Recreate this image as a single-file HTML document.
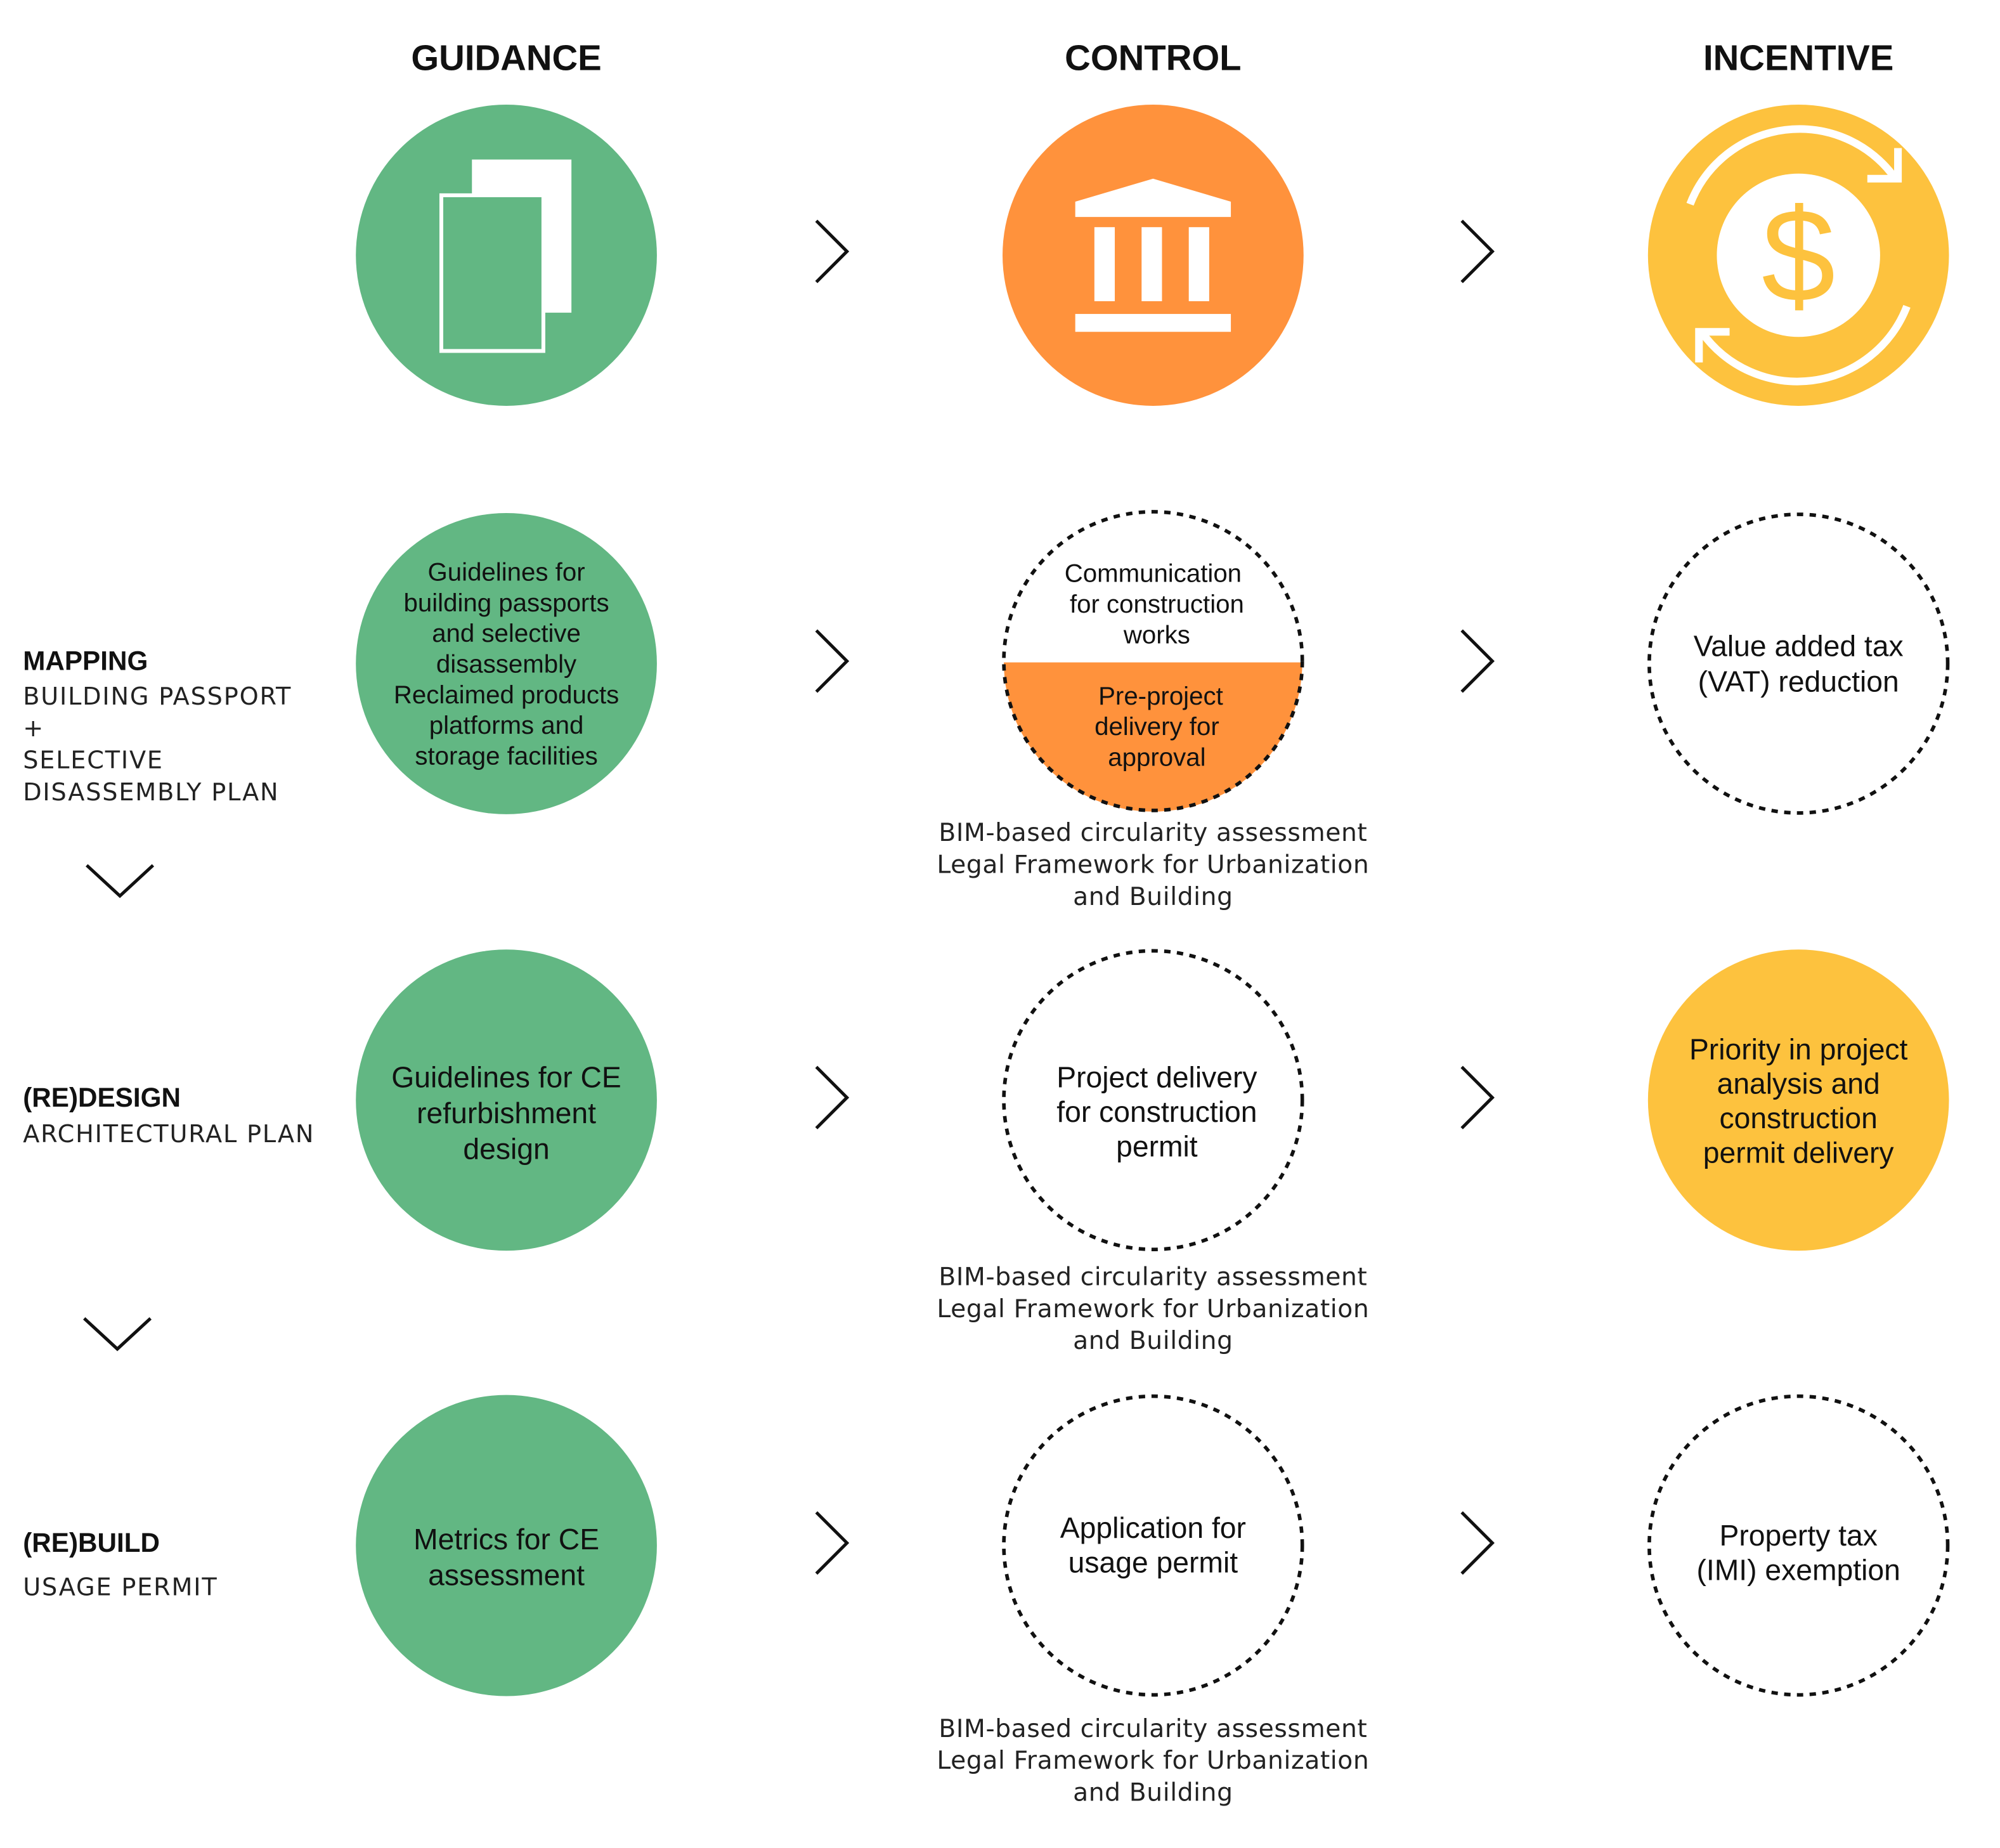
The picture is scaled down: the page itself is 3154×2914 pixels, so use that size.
<!DOCTYPE html>
<html><head><meta charset="utf-8"><style>
html,body{margin:0;padding:0;background:#fff}
svg{display:block}
text{font-family:"Liberation Sans",sans-serif}
.h{font-weight:bold;font-size:28px;text-anchor:middle;fill:#111}
.c{font-size:20px;text-anchor:middle;fill:#111}
.c2{font-size:23px;text-anchor:middle;fill:#111}
.b{font-family:"DejaVu Sans",sans-serif;font-size:19.5px;letter-spacing:0.3px;text-anchor:middle;fill:#222}
.l{font-family:"DejaVu Sans",sans-serif;font-size:19px;letter-spacing:0.9px;fill:#222}
.lb{font-weight:bold;font-size:21px;fill:#111}
.ar{fill:none;stroke:#111;stroke-width:2.5}
.ds{fill:none;stroke:#111;stroke-width:2.8;stroke-dasharray:5 5}
</style></head><body>
<svg width="3154" height="2914" viewBox="0 0 1568 1448" preserveAspectRatio="none" xmlns="http://www.w3.org/2000/svg">
<text class="h" x="397" y="55">GUIDANCE</text>
<text class="h" x="904" y="55">CONTROL</text>
<text class="h" x="1410" y="55">INCENTIVE</text>

<circle cx="397" cy="200" r="118" fill="#62B783"/>
<rect x="370" y="125" width="78" height="120" fill="#fff"/>
<rect x="346" y="153" width="80" height="122" fill="#62B783" stroke="#fff" stroke-width="3"/>
<circle cx="904" cy="200" r="118" fill="#FF923C"/>
<polygon points="843,158 904,140 965,158 965,170 843,170" fill="#fff"/>
<rect x="858" y="178" width="16" height="58" fill="#fff"/>
<rect x="895" y="178" width="16" height="58" fill="#fff"/>
<rect x="932" y="178" width="16" height="58" fill="#fff"/>
<rect x="843" y="246" width="122" height="14" fill="#fff"/>
<circle cx="1410" cy="200" r="118" fill="#FDC23E"/>
<circle cx="1410" cy="200" r="64" fill="#fff"/>
<path d="M1486,140 A92,92 0 0 0 1325,160" fill="none" stroke="#fff" stroke-width="6"/>
<path d="M1334,260 A92,92 0 0 0 1495,240" fill="none" stroke="#fff" stroke-width="6"/>
<polyline points="1464,140 1488,140 1488,116" fill="none" stroke="#fff" stroke-width="6"/>
<polyline points="1356,260 1332,260 1332,284" fill="none" stroke="#fff" stroke-width="6"/>
<text x="1410" y="236" font-size="104" text-anchor="middle" fill="#FDC23E" font-family="Liberation Sans">$</text>

<g class="ar">
<polyline points="640,173 664,197 640,221"/><polyline points="1146,173 1170,197 1146,221"/>
<polyline points="640,494 664,518 640,542"/><polyline points="1146,494 1170,518 1146,542"/>
<polyline points="640,836 664,860 640,884"/><polyline points="1146,836 1170,860 1146,884"/>
<polyline points="640,1185 664,1209 640,1233"/><polyline points="1146,1185 1170,1209 1146,1233"/>
<polyline points="68,678 94,702 120,678"/><polyline points="66,1033 92,1057 118,1033"/>
</g>

<circle cx="397" cy="520" r="118" fill="#62B783"/>
<text class="c" x="397" y="455">Guidelines for</text>
<text class="c" x="397" y="479">building passports</text>
<text class="c" x="397" y="503">and selective</text>
<text class="c" x="397" y="527">disassembly</text>
<text class="c" x="397" y="551">Reclaimed products</text>
<text class="c" x="397" y="575">platforms and</text>
<text class="c" x="397" y="599">storage facilities</text>
<path d="M787,519 L1021,519 A117,117 0 0 1 787,519 Z" fill="#FF923C"/>
<circle cx="904" cy="518" r="117" class="ds"/>
<text class="c" x="904" y="456">Communication</text>
<text class="c" x="907" y="480">for construction</text>
<text class="c" x="907" y="504">works</text>
<text class="c" x="910" y="552">Pre-project</text>
<text class="c" x="907" y="576">delivery for</text>
<text class="c" x="907" y="600">approval</text>
<circle cx="1410" cy="520" r="117" class="ds"/>
<text class="c2" x="1410" y="514">Value added tax</text>
<text class="c2" x="1410" y="542">(VAT) reduction</text>

<text class="lb" x="18" y="525">MAPPING</text>
<text class="l" x="18" y="552">BUILDING PASSPORT</text>
<text class="l" x="18" y="577">+</text>
<text class="l" x="18" y="602">SELECTIVE</text>
<text class="l" x="18" y="627">DISASSEMBLY PLAN</text>

<text class="b" x="904" y="659">BIM-based circularity assessment</text>
<text class="b" x="904" y="684">Legal Framework for Urbanization</text>
<text class="b" x="904" y="709">and Building</text>

<circle cx="397" cy="862" r="118" fill="#62B783"/>
<text class="c2" x="397" y="852">Guidelines for CE</text>
<text class="c2" x="397" y="880">refurbishment</text>
<text class="c2" x="397" y="908">design</text>
<circle cx="904" cy="862" r="117" class="ds"/>
<text class="c2" x="907" y="852">Project delivery</text>
<text class="c2" x="907" y="879">for construction</text>
<text class="c2" x="907" y="906">permit</text>
<circle cx="1410" cy="862" r="118" fill="#FDC23E"/>
<text class="c2" x="1410" y="830">Priority in project</text>
<text class="c2" x="1410" y="857">analysis and</text>
<text class="c2" x="1410" y="884">construction</text>
<text class="c2" x="1410" y="911">permit delivery</text>

<text class="lb" x="18" y="867">(RE)DESIGN</text>
<text class="l" x="18" y="895">ARCHITECTURAL PLAN</text>

<text class="b" x="904" y="1007">BIM-based circularity assessment</text>
<text class="b" x="904" y="1032">Legal Framework for Urbanization</text>
<text class="b" x="904" y="1057">and Building</text>

<circle cx="397" cy="1211" r="118" fill="#62B783"/>
<text class="c2" x="397" y="1214">Metrics for CE</text>
<text class="c2" x="397" y="1242">assessment</text>
<circle cx="904" cy="1211" r="117" class="ds"/>
<text class="c2" x="904" y="1205">Application for</text>
<text class="c2" x="904" y="1232">usage permit</text>
<circle cx="1410" cy="1211" r="117" class="ds"/>
<text class="c2" x="1410" y="1211">Property tax</text>
<text class="c2" x="1410" y="1238">(IMI) exemption</text>

<text class="lb" x="18" y="1216">(RE)BUILD</text>
<text class="l" x="18" y="1250">USAGE PERMIT</text>

<text class="b" x="904" y="1361">BIM-based circularity assessment</text>
<text class="b" x="904" y="1386">Legal Framework for Urbanization</text>
<text class="b" x="904" y="1411">and Building</text>
</svg>
</body></html>
